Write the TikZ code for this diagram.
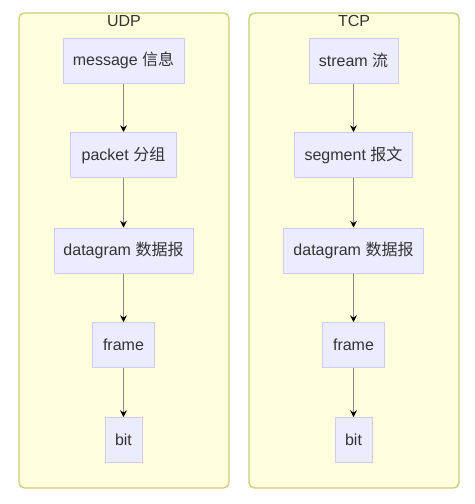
\documentclass[tikz,border=0pt]{standalone}
\usepackage{fontspec}
\setmainfont{Liberation Sans}
\newfontfamily\cjk{Noto Sans CJK SC}
\usetikzlibrary{arrows.meta}
\definecolor{clfill}{HTML}{FFFFDE}
\definecolor{cldraw}{HTML}{CCCC77}
\definecolor{ndfill}{HTML}{ECECFF}
\definecolor{nddraw}{HTML}{CCCCFF}
\definecolor{txt}{HTML}{333333}
\definecolor{edge}{HTML}{888888}
\tikzset{
  cluster/.style={draw=cldraw, fill=clfill, line width=1pt, rounded corners=4pt},
  box/.style={draw=nddraw, fill=ndfill, line width=0.75pt, inner sep=0pt, text=txt, font=\fontsize{12pt}{14pt}\selectfont},
  cltitle/.style={text=txt, font=\fontsize{12pt}{14pt}\selectfont, inner sep=0pt},
  flow/.style={draw=edge, line width=1pt, -{Stealth[length=5pt,width=5pt,black]}}
}
\begin{document}
\begin{tikzpicture}[x=0.75pt,y=-0.75pt]
\useasboundingbox (0,0) rectangle (475,504);
\path[cluster] (19,13) rectangle (229,488);
\path[cluster] (249,13) rectangle (459,488);
\node[cltitle] (udp) at (124,21) {UDP};
\node[cltitle] (tcp) at (354,21) {TCP};
% UDP
\node[box, minimum width=121*0.75pt, minimum height=45*0.75pt] (u1) at (123.5,60.5) {message {\cjk 信息}};
\node[box, minimum width=106*0.75pt, minimum height=45*0.75pt] (u2) at (123.5,155) {packet {\cjk 分组}};
\node[box, minimum width=139*0.75pt, minimum height=45*0.75pt] (u3) at (123.5,250.5) {datagram {\cjk 数据报}};
\node[box, minimum width=62*0.75pt, minimum height=45*0.75pt] (u4) at (123.5,345) {frame};
\node[box, minimum width=37*0.75pt, minimum height=45*0.75pt] (u5) at (123.5,440) {bit};
% TCP
\node[box, minimum width=89*0.75pt, minimum height=45*0.75pt] (t1) at (353.5,60.5) {stream {\cjk 流}};
\node[box, minimum width=118*0.75pt, minimum height=45*0.75pt] (t2) at (353.5,155) {segment {\cjk 报文}};
\node[box, minimum width=140*0.75pt, minimum height=45*0.75pt] (t3) at (353.5,250.5) {datagram {\cjk 数据报}};
\node[box, minimum width=62*0.75pt, minimum height=45*0.75pt] (t4) at (353.5,345) {frame};
\node[box, minimum width=37*0.75pt, minimum height=45*0.75pt] (t5) at (353.5,440) {bit};
\foreach \a/\b in {u1/u2,u2/u3,u3/u4,u4/u5,t1/t2,t2/t3,t3/t4,t4/t5}
  \draw[flow] (\a) -- (\b);
\end{tikzpicture}
\end{document}
